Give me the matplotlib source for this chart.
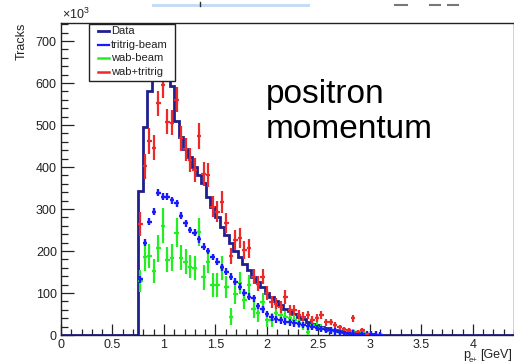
import numpy as np
import matplotlib
matplotlib.use('Agg')
import matplotlib.pyplot as plt
from matplotlib.lines import Line2D
from matplotlib.patches import Rectangle
from matplotlib.ticker import MultipleLocator

plt.rcParams['font.family'] = ['Liberation Sans', 'DejaVu Sans']
plt.rcParams['mathtext.fontset'] = 'custom'
plt.rcParams['mathtext.rm'] = 'Liberation Sans'
plt.rcParams['mathtext.it'] = 'Liberation Sans:italic'

# ---------------- data (units of 10^3 tracks) ----------------
x_min, x_max, n_bins = 0.0, 4.4, 100
first_bin = 17  # first non-empty bin (p = 0.748 GeV)

data_counts = [343, 496, 582, 640, 662, 655, 630, 592, 510, 471, 442, 425, 401, 381,
               362, 329, 305, 282, 258, 238, 219, 200, 186, 170, 155, 139, 127, 114,
               100, 90, 80, 71, 63, 56, 49, 43, 37, 32, 27, 23, 19, 16, 13, 11, 9, 7,
               5.5, 4.5, 3.5, 2.5, 2, 1.5, 1, 0.6, 0.3, 0.1]

tritrig_counts = [133, 220, 270, 294, 339, 329, 329, 321, 314, 284, 266, 250, 244, 228,
                  210, 200, 186, 175, 161, 151, 139, 127, 115, 101, 91, 87, 69, 61, 50,
                  42, 37, 35, 32, 30, 28, 26, 24, 21, 19, 17, 14, 12, 11, 9, 7, 6, 4.5,
                  3.5, 2.5, 1.8, 1.2, 0.8, 0.5, 0.3]
tritrig_err = 8

wab_counts = [129, 185, 188, 153, 206, 260, 179, 184, 244, 184, 175, 163, 159, 245, 137,
              175, 119, 119, 159, 115, 44, 98, 123, 83, 119, 61, 52, 79, 36, 36, 52, 48,
              42, 40, 36, 28, 24, 8, 24, 20, 17, 12, 10, 10, 8, 7, 6, 9, 5, 8, 2]
wab_err = [26, 32, 28, 28, 32, 42, 30, 32, 34, 30, 30, 28, 28, 34, 30, 28, 28, 28, 28,
           26, 20, 24, 26, 22, 24, 20, 20, 22, 16, 16, 18, 16, 16, 15, 14, 12, 12, 8, 12,
           10, 10, 8, 7, 7, 6, 6, 5, 6, 4, 6, 2]

sum_counts = [264, 402, 462, 446, 552, 595, 508, 506, 560, 468, 442, 417, 393, 474, 383,
              381, 306, 294, 317, 267, 188, 226, 232, 202, 206, 139, 122, 139, 100, 79,
              75, 67, 91, 60, 60, 48, 44, 48, 36, 40, 48, 30, 32, 24, 18, 14, 12, 40, 8,
              12, 3]
sum_err = [28, 30, 30, 30, 30, 30, 30, 30, 30, 30, 28, 28, 28, 30, 28, 28, 26, 26, 26,
           24, 20, 24, 24, 22, 22, 18, 18, 18, 16, 14, 14, 14, 16, 12, 12, 11, 10, 10, 9,
           9, 9, 8, 7, 7, 6, 5, 5, 8, 4, 4, 2]

legend_labels = ['Data', 'tritrig-beam', 'wab-beam', 'wab+tritrig']
x_ticks = [0, 0.5, 1, 1.5, 2, 2.5, 3, 3.5, 4]
x_tick_labels = ['0', '0.5', '1', '1.5', '2', '2.5', '3', '3.5', '4']
y_ticks = [0, 100, 200, 300, 400, 500, 600, 700]
y_tick_labels = ['0', '100', '200', '300', '400', '500', '600', '700']
y_max = 743
annotation = 'positron\nmomentum'

# ---------------- styles ----------------
C_DATA = '#1f1f8f'
C_TRI = '#1a1aff'
C_WAB = '#22ee22'
C_SUM = '#ec2a2a'
C_TXT = '#222222'

W, H = 514, 363
fig = plt.figure(figsize=(W / 100, H / 100), dpi=100)
fig.patch.set_facecolor('white')

def fx(px):
    return px / W

def fy(py):
    return 1 - py / H

ax_l, ax_r, ax_t, ax_b = 61, 514, 23, 335
ax = fig.add_axes([fx(ax_l), fy(ax_b), (ax_r - ax_l) / W, (ax_b - ax_t) / H])
ax.set_facecolor('white')

edges = np.linspace(x_min, x_max, n_bins + 1)
bw = edges[1] - edges[0]
centers = edges[:-1] + bw / 2

full = np.zeros(n_bins)
full[first_bin:first_bin + len(data_counts)] = data_counts
ax.stairs(full, edges, color=C_DATA, lw=2, baseline=None, zorder=2)

def pts(vals):
    return centers[first_bin:first_bin + len(vals)], np.asarray(vals, float)

xw, yw = pts(wab_counts)
ax.errorbar(xw, yw, yerr=wab_err, xerr=bw / 2, fmt='none', ecolor=C_WAB, elinewidth=1.6,
            capsize=0, zorder=3)
xt, yt = pts(tritrig_counts)
ax.errorbar(xt, yt, yerr=tritrig_err, xerr=bw / 2, fmt='none', ecolor=C_TRI, elinewidth=1.7,
            capsize=0, zorder=4)
xs, ys = pts(sum_counts)
ax.errorbar(xs, ys, yerr=sum_err, xerr=bw / 2, fmt='none', ecolor=C_SUM, elinewidth=1.6,
            capsize=0, zorder=5)

ax.set_xlim(x_min, x_max)
ax.set_ylim(0, y_max)
ax.set_xticks(x_ticks)
ax.set_xticklabels(x_tick_labels)
ax.set_yticks(y_ticks)
ax.set_yticklabels(y_tick_labels)
ax.xaxis.set_minor_locator(MultipleLocator(0.1))
ax.yaxis.set_minor_locator(MultipleLocator(20))
ax.tick_params(axis='both', which='both', direction='in', colors=C_TXT,
               labelsize=9, width=0.9, top=False, right=False)
ax.tick_params(axis='y', which='major', length=9.4, pad=3)
ax.tick_params(axis='y', which='minor', length=5)
ax.tick_params(axis='x', which='major', length=8, pad=3)
ax.tick_params(axis='x', which='minor', length=4)
for s in ax.spines.values():
    s.set_color(C_TXT)
    s.set_linewidth(1.0)

# axis titles
fig.text(fx(22), fy(23), 'Tracks', rotation=90, ha='center', va='top', fontsize=9,
         color=C_TXT)
fig.text(fx(62), fy(22), r'$\times$10$^{3}$', ha='left', va='bottom', fontsize=9,
         color=C_TXT)
fig.text(fx(512), fy(349), '[GeV]', ha='right', va='top', fontsize=9, color=C_TXT)
fig.text(fx(463), fy(349), 'p', ha='left', va='top', fontsize=9, color=C_TXT)
fig.text(fx(469), fy(357), 'e+', ha='left', va='top', fontsize=5.5, color=C_TXT)

# annotation
fig.text(fx(266), fy(79), annotation, ha='left', va='top', fontsize=24,
         linespacing=1.15, color='black')

# legend box
lg_l, lg_t, lg_r, lg_b = 89, 24, 175, 81
fig.add_artist(Rectangle((fx(lg_l), fy(lg_b)), (lg_r - lg_l) / W, (lg_b - lg_t) / H,
                         transform=fig.transFigure, facecolor='white',
                         edgecolor=C_TXT, lw=1.0, zorder=10))
leg_colors = [C_DATA, C_TRI, C_WAB, C_SUM]
leg_lw = [2, 1.6, 1.8, 1.8]
for i, (lab, col, lw) in enumerate(zip(legend_labels, leg_colors, leg_lw)):
    yy = 31 + i * 13.7
    fig.add_artist(Line2D([fx(98), fx(109)], [fy(yy), fy(yy)], transform=fig.transFigure,
                          color=col, lw=lw, zorder=11))
    fig.text(fx(111), fy(yy), lab, ha='left', va='center', fontsize=8, color=C_TXT,
             zorder=12)

# slide artifacts at the top
fig.add_artist(Line2D([fx(153), fx(308)], [fy(5), fy(5)], transform=fig.transFigure,
                      color='#c6dcf2', lw=2.2))
fig.add_artist(Line2D([fx(200), fx(200)], [fy(2), fy(6)], transform=fig.transFigure,
                      color='#333333', lw=1))
for a, b in [(395, 407), (430, 440), (448, 458)]:
    fig.add_artist(Line2D([fx(a), fx(b)], [fy(5), fy(5)], transform=fig.transFigure,
                          color='#777777', lw=1.5))

fig.savefig('out.png', dpi=100)
